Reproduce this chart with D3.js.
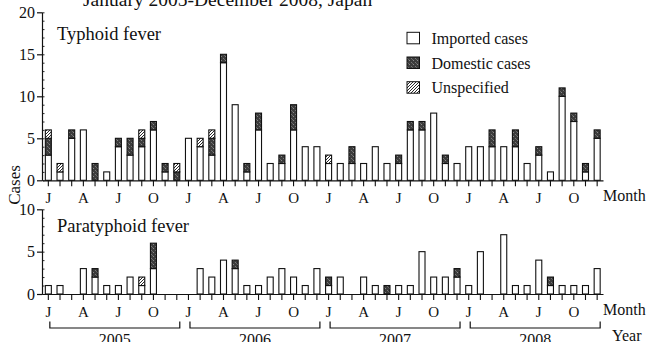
<!DOCTYPE html>
<html><head><meta charset="utf-8">
<script src="https://cdn.jsdelivr.net/npm/d3@7"></script>
<style>
html,body{margin:0;padding:0;background:#fff;}
svg{display:block;}
text{font-family:"Liberation Serif","Times New Roman",serif;fill:#111;}
</style></head>
<body>
<script>
// ---- data ----
const years = ["2005","2006","2007","2008"];
const monthLetters = ["J","","","A","","","J","","","O","",""];
const seriesKeys = ["imported","domestic","unspecified"];
const legendLabels = ["Imported cases","Domestic cases","Unspecified"];

const typhoidImported    = [3,1,5,6,0,1,4,3,4,6,1,0, 5,4,3,14,9,1,6,2,2,6,4,4, 2,2,2,2,4,2,2,6,6,8,2,2, 4,4,4,4,4,2,3,1,10,7,1,5];
const typhoidDomestic    = [2,0,1,0,2,0,1,2,1,1,1,1, 0,0,2,1,0,1,2,0,1,3,0,0, 0,0,2,0,0,0,1,1,1,0,1,0, 0,0,2,0,2,0,1,0,1,1,1,1];
const typhoidUnspecified = [1,1,0,0,0,0,0,0,1,0,0,1, 0,1,1,0,0,0,0,0,0,0,0,0, 1,0,0,0,0,0,0,0,0,0,0,0, 0,0,0,0,0,0,0,0,0,0,0,0];

const paraImported    = [1,1,0,3,2,1,1,2,1,3,0,0, 0,3,2,4,3,1,1,2,3,2,1,3, 1,2,0,2,1,0,1,1,5,2,2,2, 1,5,0,7,1,1,4,1,1,1,1,3];
const paraDomestic    = [0,0,0,0,1,0,0,0,0,3,0,0, 0,0,0,0,1,0,0,0,0,0,0,0, 1,0,0,0,0,1,0,0,0,0,0,1, 0,0,0,0,0,0,0,1,0,0,0,0];
const paraUnspecified = [0,0,0,0,0,0,0,0,1,0,0,0, 0,0,0,0,0,0,0,0,0,0,0,0, 0,0,0,0,0,0,0,0,0,0,0,0, 0,0,0,0,0,0,0,0,0,0,0,0];

const typhoidTicks = [0,5,10,15,20];
const paraTicks = [0,5,10];

// ---- layout ----
const W = 648, H = 342;
const svg = d3.select("body").append("svg").attr("width",W).attr("height",H);
const defs = svg.append("defs");

// domestic: dark speckled
const pd = defs.append("pattern").attr("id","dom").attr("patternUnits","userSpaceOnUse")
  .attr("width",4).attr("height",4);
pd.append("rect").attr("width",4).attr("height",4).attr("fill","#3c3c3c");
pd.append("rect").attr("x",1).attr("y",0).attr("width",1).attr("height",1).attr("fill","#8a8a8a");
pd.append("rect").attr("x",3).attr("y",2).attr("width",1).attr("height",1).attr("fill","#777");
pd.append("rect").attr("x",0).attr("y",3).attr("width",1).attr("height",1).attr("fill","#666");
// unspecified: diagonal hatch
const ph = defs.append("pattern").attr("id","hatch").attr("patternUnits","userSpaceOnUse")
  .attr("width",3).attr("height",3);
ph.append("rect").attr("width",3).attr("height",3).attr("fill","#fff");
ph.append("path").attr("d","M-1,1 L1,-1 M0,3 L3,0 M2,4 L4,2").attr("stroke","#111").attr("stroke-width",0.9);

const fills = {imported:"#fff", domestic:"url(#dom)", unspecified:"url(#hatch)"};

const months = d3.range(48);
const x = d3.scaleBand().domain(months).range([42.5,603]).paddingInner(0.4).paddingOuter(0.2);

function panel(imp, dom, uns, yMax, yTicks, y0, y1, title, titleY) {
  const y = d3.scaleLinear().domain([0,yMax]).range([y0,y1]);
  const g = svg.append("g");
  const rows = months.map(i => ({i, imported:imp[i], domestic:dom[i], unspecified:uns[i]}));
  const stack = d3.stack().keys(seriesKeys)(rows);
  g.selectAll("g.s").data(stack).join("g").attr("class","s")
    .attr("fill", d => fills[d.key])
    .selectAll("rect").data(d => d.filter(p => p[1]-p[0] > 0)).join("rect")
      .attr("x", p => x(p.data.i)+0.5)
      .attr("width", x.bandwidth()-1)
      .attr("y", p => y(p[1]))
      .attr("height", p => y(p[0]) - y(p[1]))
      .attr("stroke","#111").attr("stroke-width",1.1);

  // y axis: major left, minor right
  const ya = g.append("g").attr("transform",`translate(${x.range()[0]-0.5},0)`)
    .call(d3.axisLeft(y).tickValues(yTicks).tickSize(5).tickPadding(2).tickSizeOuter(0));
  ya.selectAll("text").attr("font-size",16).attr("font-family","Liberation Serif").attr("fill","#111");
  ya.select(".domain").attr("stroke","#111").attr("stroke-width",1.2);
  ya.selectAll(".tick line").attr("stroke","#111").attr("stroke-width",1.2);
  const ym = g.append("g").attr("transform",`translate(${x.range()[0]-0.5},0)`)
    .call(d3.axisRight(y).tickValues(d3.range(0,yMax+1)).tickSize(2.5).tickFormat(""));
  ym.select(".domain").remove();
  ym.selectAll(".tick line").attr("stroke","#111").attr("stroke-width",0.9);

  // x axis
  const xa = g.append("g").attr("transform",`translate(0,${y0})`)
    .call(d3.axisBottom(x).tickSize(6).tickPadding(6).tickSizeOuter(0)
      .tickFormat(i => monthLetters[i%12]));
  xa.selectAll("text").attr("font-size",15).attr("font-family","Liberation Serif").attr("fill","#111");
  xa.select(".domain").attr("stroke","#111").attr("stroke-width",1.2);
  xa.selectAll(".tick line").attr("stroke","#111").attr("stroke-width",1.1);

  g.append("text").attr("x",603).attr("y",y0+21).attr("font-size",16).text("Month");
  g.append("text").attr("x",57).attr("y",titleY).attr("font-size",18.5).text(title);
  return y;
}

panel(typhoidImported, typhoidDomestic, typhoidUnspecified, 20, typhoidTicks, 180.3, 12.3, "Typhoid fever", 40);
panel(paraImported, paraDomestic, paraUnspecified, 10, paraTicks, 294, 209.3, "Paratyphoid fever", 231.7);

// main title (partly cut off at top)
svg.append("text").attr("x",83).attr("y",6).attr("font-size",19.5)
  .text("January 2005-December 2008, Japan");

// y label
svg.append("text").attr("transform","translate(20,185) rotate(-90)")
  .attr("text-anchor","middle").attr("font-size",17).text("Cases");

// legend
const lg = svg.append("g");
legendLabels.forEach((lab,k) => {
  const yy = 32.3 + k*24.7;
  lg.append("rect").attr("x",407).attr("y",yy).attr("width",12.5).attr("height",11.5)
    .attr("fill",fills[seriesKeys[k]]).attr("stroke","#111").attr("stroke-width",1);
  lg.append("text").attr("x",431.5).attr("y",yy+11.5).attr("font-size",16).text(lab);
});

// year brackets
const half = x.bandwidth()/2;
years.forEach((yr,k) => {
  const xa = x(k*12)+half+1.5, xb = x(k*12+11)+half+3;
  svg.append("path").attr("d",`M${xa},321.5 V328 H${xb} V321.5`)
    .attr("fill","none").attr("stroke","#111").attr("stroke-width",1.2);
  svg.append("text").attr("x",(xa+xb)/2).attr("y",344.5).attr("text-anchor","middle")
    .attr("font-size",16).text(yr);
});
svg.append("text").attr("x",612).attr("y",341).attr("font-size",16).text("Year");
</script>
</body></html>
